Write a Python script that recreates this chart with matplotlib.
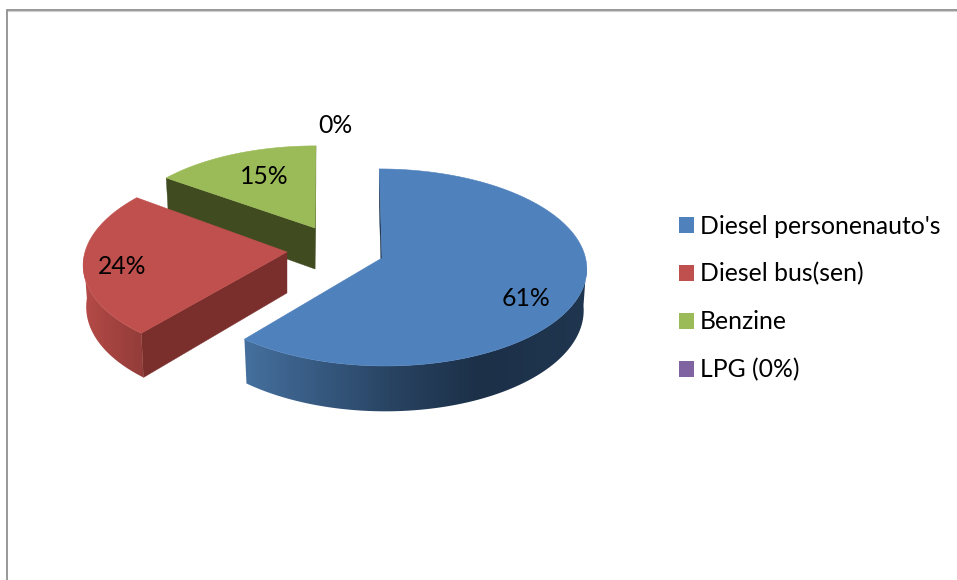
import numpy as np
import matplotlib
matplotlib.use("Agg")
import matplotlib.pyplot as plt
from matplotlib.patches import Polygon, Patch
from matplotlib.colors import to_rgb

categories = ["Diesel personenauto's", "Diesel bus(sen)", "Benzine", "LPG (0%)"]
shares = [61, 24, 15, 0]
colors = ["#4F81BD", "#C0504D", "#9BBB59", "#8064A2"]
inner_walls = ["#1C3148", "#7A2F2D", "#404C20", "#4C3C61"]

plt.rcParams['font.family'] = ['Lato', 'DejaVu Sans']

# layout of each exploded slice: vertex x, y, radius x, radius y, shear, depth
geometry = [
    (382, 258, 203.5, 97.6, -3, 41),
    (287, 252, 202, 97.6, 8, 41),
    (315, 228, 195, 90.0, 1, 41),
]
persp = 0.096
wall_stops = [
    [(240, "#46719F"), (300, "#3A5F88"), (400, "#27415F"), (480, "#1C3048"), (595, "#203650")],
    [(80, "#B84C49"), (105, "#A84542"), (150, "#8F3B38")],
    [(100, "#6F8A3F"), (320, "#55692F")],
]
label_pos = [(526, 298), (122, 266), (264, 176), (335, 125)]

fig = plt.figure(figsize=(9.57, 5.8), dpi=100)
ax = fig.add_axes([0, 0, 1, 1])
ax.set_xlim(0, 957)
ax.set_ylim(580, 0)
ax.axis("off")


def project(t, g):
    cx, cy, a, b, s, d = g
    den = 1 + persp * np.cos(t)
    x = cx + (a * np.sin(t) + s * np.cos(t)) / den
    y = cy - b * np.cos(t) / den
    return x, y


def bottom(t, g):
    cx, cy, a, b, s, d = g
    x, y = project(t, g)
    den = 1 + persp * np.cos(t)
    return cx + 0.985 * (x - cx), y + d / den


total = sum(shares)
starts = np.cumsum([0] + shares[:-1]) / total * 2 * np.pi
ends = np.cumsum(shares) / total * 2 * np.pi

for i in [2, 1, 0]:
    g = geometry[i]
    cx, cy, *_, d = g
    ts = np.linspace(starts[i], ends[i], 240)
    tx, ty = project(ts, g)
    vb = (cx, cy + d)
    order = 10 * (3 - i)  # far slices first
    # radial walls that face the viewer
    visible = (starts[i], ends[i]) if i == 2 else (starts[i],)
    for t0 in visible:
        ax.add_patch(Polygon([(cx, cy), project(t0, g), bottom(t0, g), vb], closed=True,
                             fc=inner_walls[i], ec=inner_walls[i], lw=0.3, zorder=order))
    # outer wall (front-facing part only) with a horizontal gradient
    front = ts[np.cos(ts) <= -0.05]
    if i != 2 and len(front) > 1:
        fx, fy = project(front, g)
        bx, by = bottom(front, g)
        poly = Polygon(np.vstack([np.column_stack([fx, fy]), np.column_stack([bx, by])[::-1]]),
                       closed=True, fc="none", ec="none", zorder=order + 1)
        ax.add_patch(poly)
        stops = wall_stops[i]
        px = np.arange(stops[0][0], stops[-1][0] + 1)
        rgb = np.array([to_rgb(p[1]) for p in stops])
        grad = np.stack([np.interp(px, [p[0] for p in stops], rgb[:, c]) for c in range(3)], axis=-1)[None, :, :]
        im = ax.imshow(grad, extent=(px[0], px[-1], 430, 150), aspect="auto", zorder=order + 1,
                       interpolation="bilinear")
        im.set_clip_path(poly)
    # top face
    ax.add_patch(Polygon(np.column_stack([np.r_[cx, tx], np.r_[cy, ty]]), closed=True,
                         fc=colors[i], ec=colors[i], lw=0.4, zorder=order + 2))
ax.set_xlim(0, 957)
ax.set_ylim(580, 0)

for v, (x, y) in zip(shares, label_pos):
    ax.text(x, y + 0.5, f"{v}%", ha="center", va="center", fontsize=17.8, color="#000000", zorder=50)

handles = [Patch(fc=c, ec="none") for c in colors]
ax.legend(handles, categories, loc="center left", bbox_to_anchor=(679, 298), bbox_transform=ax.transData,
          frameon=False, fontsize=17.8, handlelength=0.61, handleheight=0.61, handletextpad=0.24,
          labelspacing=1.0, borderpad=0, borderaxespad=0, labelcolor="#000000")

# outer frame
ax.plot([6.8, 6.8, 957], [580, 9.5, 9.5], color="#868686", lw=1.2, solid_joinstyle="miter", clip_on=False)
ax.plot([8, 957], [10.8, 10.8], color="#D0D0D0", lw=0.8)

fig.savefig("out.png", dpi=100)
